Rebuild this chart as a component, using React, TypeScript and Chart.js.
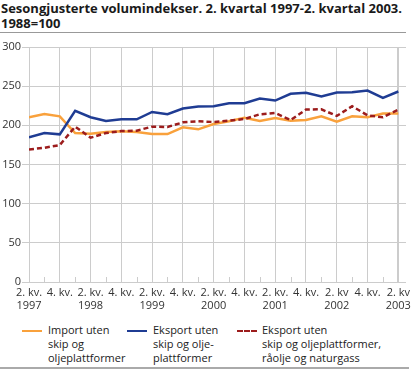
import React, { useEffect, useRef } from "react";
import { Chart, registerables } from "chart.js";

Chart.register(...registerables);

const quarters = [
  "2. kv. 1997", "3. kv. 1997", "4. kv. 1997", "1. kv. 1998",
  "2. kv. 1998", "3. kv. 1998", "4. kv. 1998", "1. kv. 1999",
  "2. kv. 1999", "3. kv. 1999", "4. kv. 1999", "1. kv. 2000",
  "2. kv. 2000", "3. kv. 2000", "4. kv. 2000", "1. kv. 2001",
  "2. kv. 2001", "3. kv. 2001", "4. kv. 2001", "1. kv. 2002",
  "2. kv. 2002", "3. kv. 2002", "4. kv. 2002", "1. kv. 2003",
  "2. kv. 2003",
];

// tick labels shown on the x axis (only every second quarter)
const xTickLabels: (string | string[])[] = [
  ["2. kv.", "1997"], "", "4. kv.", "",
  ["2. kv.", "1998"], "", "4. kv.", "",
  ["2. kv.", "1999"], "", "4. kv.", "",
  ["2. kv.", "2000"], "", "4. kv.", "",
  ["2. kv.", "2001"], "", "4. kv.", "",
  ["2. kv", "2002"], "", "4. kv.", "",
  ["2. kv", "2003"],
];

const importUten = [
  210.3, 214.5, 211.5, 190.2, 189.3, 191.5, 192.3, 191.5, 188.9, 188.9,
  197.4, 194.9, 201.7, 205.1, 209.8, 205.6, 209.4, 206.0, 206.8, 211.5,
  204.7, 211.5, 210.3, 215.0, 215.0,
];

const eksportUten = [
  184.6, 190.2, 188.5, 218.4, 210.3, 205.6, 207.7, 207.7, 217.1, 214.1,
  221.4, 224.0, 224.4, 228.2, 228.2, 234.2, 231.6, 240.2, 241.5, 236.8,
  241.9, 242.3, 244.4, 235.0, 243.2,
];

const eksportUtenRaolje = [
  169.2, 171.4, 174.8, 198.3, 184.2, 190.2, 192.7, 193.2, 198.3, 197.9,
  203.8, 205.1, 204.3, 206.0, 208.1, 214.1, 215.8, 206.8, 220.1, 220.5,
  212.0, 224.4, 212.8, 210.3, 220.1,
];

const yTicks = [0, 50, 100, 150, 200, 250, 300];

const seriesNames = [
  ["Import uten", "skip og", "oljeplattformer"],
  ["Eksport uten", "skip og olje-", "plattformer"],
  ["Eksport uten", "skip og oljeplattformer,", "råolje og naturgass"],
];

const ORANGE = "#f9a13c";
const BLUE = "#1f3c93";
const RED = "#9c1c1c";
const GRID = "#cccccc";
const FONT = "'Open Sans', 'DejaVu Sans', sans-serif";

const toPoints = (arr: number[]) => arr.map((v, i) => ({ x: i, y: v }));

const minorTicks = {
  id: "minorTicks",
  beforeDatasetsDraw(chart: any) {
    const { ctx, chartArea, scales } = chart;
    const xs = scales.x;
    ctx.save();
    ctx.strokeStyle = GRID;
    ctx.lineWidth = 1;
    for (let i = 1; i < quarters.length; i += 2) {
      const x = Math.round(xs.getPixelForValue(i)) + 0.5;
      ctx.beginPath();
      ctx.moveTo(x, chartArea.bottom);
      ctx.lineTo(x, chartArea.bottom - 5);
      ctx.stroke();
    }
    ctx.restore();
  },
};

export default function App() {
  const ref = useRef<HTMLCanvasElement | null>(null);

  useEffect(() => {
    if (!ref.current) return;
    const chart = new Chart(ref.current, {
      type: "line",
      data: {
        datasets: [
          {
            label: seriesNames[2].join(" "),
            data: toPoints(eksportUtenRaolje),
            borderColor: RED,
            borderWidth: 2.5,
            borderDash: [5, 3],
            pointRadius: 0,
            tension: 0,
          },
          {
            label: seriesNames[1].join(" "),
            data: toPoints(eksportUten),
            borderColor: BLUE,
            borderWidth: 2.5,
            pointRadius: 0,
            tension: 0,
          },
          {
            label: seriesNames[0].join(" "),
            data: toPoints(importUten),
            borderColor: ORANGE,
            borderWidth: 2.5,
            pointRadius: 0,
            tension: 0,
          },
        ],
      },
      options: {
        animation: false,
        responsive: false,
        maintainAspectRatio: false,
        events: [],
        layout: { padding: { top: 11, right: 13, left: 0, bottom: 0 } },
        plugins: {
          legend: { display: false },
          title: { display: false },
          tooltip: { enabled: false },
        },
        scales: {
          x: {
            type: "linear",
            min: 0,
            max: 24.5,
            afterBuildTicks: (scale: any) => {
              scale.ticks = quarters.map((_, i) => ({ value: i }));
            },
            afterFit: (scale: any) => {
              scale.height = 34;
            },
            grid: {
              color: (c: any) =>
                c.tick && c.tick.value % 2 === 0 ? GRID : "rgba(0,0,0,0)",
              lineWidth: (c: any) => (c.tick && c.tick.value === 24 ? 2 : 1),
              drawTicks: false,
            },
            border: { display: false },
            ticks: {
              autoSkip: false,
              maxRotation: 0,
              minRotation: 0,
              padding: 4,
              color: "#333",
              font: { family: FONT, size: 11 },
              callback: (v: any) => xTickLabels[Number(v)] ?? "",
            },
          },
          y: {
            min: 0,
            max: 300,
            afterBuildTicks: (scale: any) => {
              scale.ticks = yTicks.map((v) => ({ value: v }));
            },
            afterFit: (scale: any) => {
              scale.width = 29;
            },
            grid: {
              color: GRID,
              tickLength: 7,
              tickColor: GRID,
            },
            border: { display: false },
            ticks: {
              padding: 1,
              color: "#333",
              font: { family: FONT, size: 11 },
            },
          },
        },
      },
      plugins: [minorTicks],
    });
    return () => chart.destroy();
  }, []);

  const legendItems = [
    { color: ORANGE, dashed: false, lineX: 22, textX: 48, lines: seriesNames[0] },
    { color: BLUE, dashed: false, lineX: 127, textX: 153, lines: seriesNames[1] },
    { color: RED, dashed: true, lineX: 237, textX: 262, lines: seriesNames[2] },
  ];

  return (
    <div
      style={{
        position: "absolute",
        left: 0,
        top: 0,
        width: 419,
        height: 370,
        background: "#fff",
        fontFamily: FONT,
        overflow: "hidden",
      }}
    >
      <div
        style={{
          position: "absolute",
          left: 1,
          top: 1,
          fontSize: 13,
          fontWeight: 700,
          lineHeight: "15px",
          color: "#1a1a1a",
          whiteSpace: "nowrap",
        }}
      >
        <div>Sesongjusterte volumindekser. 2. kvartal 1997-2. kvartal 2003.</div>
        <div>1988=100</div>
      </div>
      <div
        style={{
          position: "absolute",
          left: 0,
          top: 32,
          width: 406,
          height: 1,
          background: "#999",
        }}
      />
      <canvas
        ref={ref}
        width={419}
        height={280}
        style={{ position: "absolute", left: 0, top: 36, width: 419, height: 280 }}
      />
      {legendItems.map((it, k) => (
        <React.Fragment key={k}>
          <div
            style={{
              position: "absolute",
              left: it.lineX,
              top: 330,
              width: 20,
              height: 0,
              borderTop: `2.5px ${it.dashed ? "dashed" : "solid"} ${it.color}`,
            }}
          />
          <div
            style={{
              position: "absolute",
              left: it.textX,
              top: 323,
              fontSize: 11,
              lineHeight: "14px",
              color: "#222",
              whiteSpace: "nowrap",
            }}
          >
            {it.lines.map((l, j) => (
              <div key={j}>{l}</div>
            ))}
          </div>
        </React.Fragment>
      ))}
      <div
        style={{
          position: "absolute",
          left: 0,
          top: 367,
          width: 409,
          height: 1.5,
          background: "#aaa",
        }}
      />
    </div>
  );
}
